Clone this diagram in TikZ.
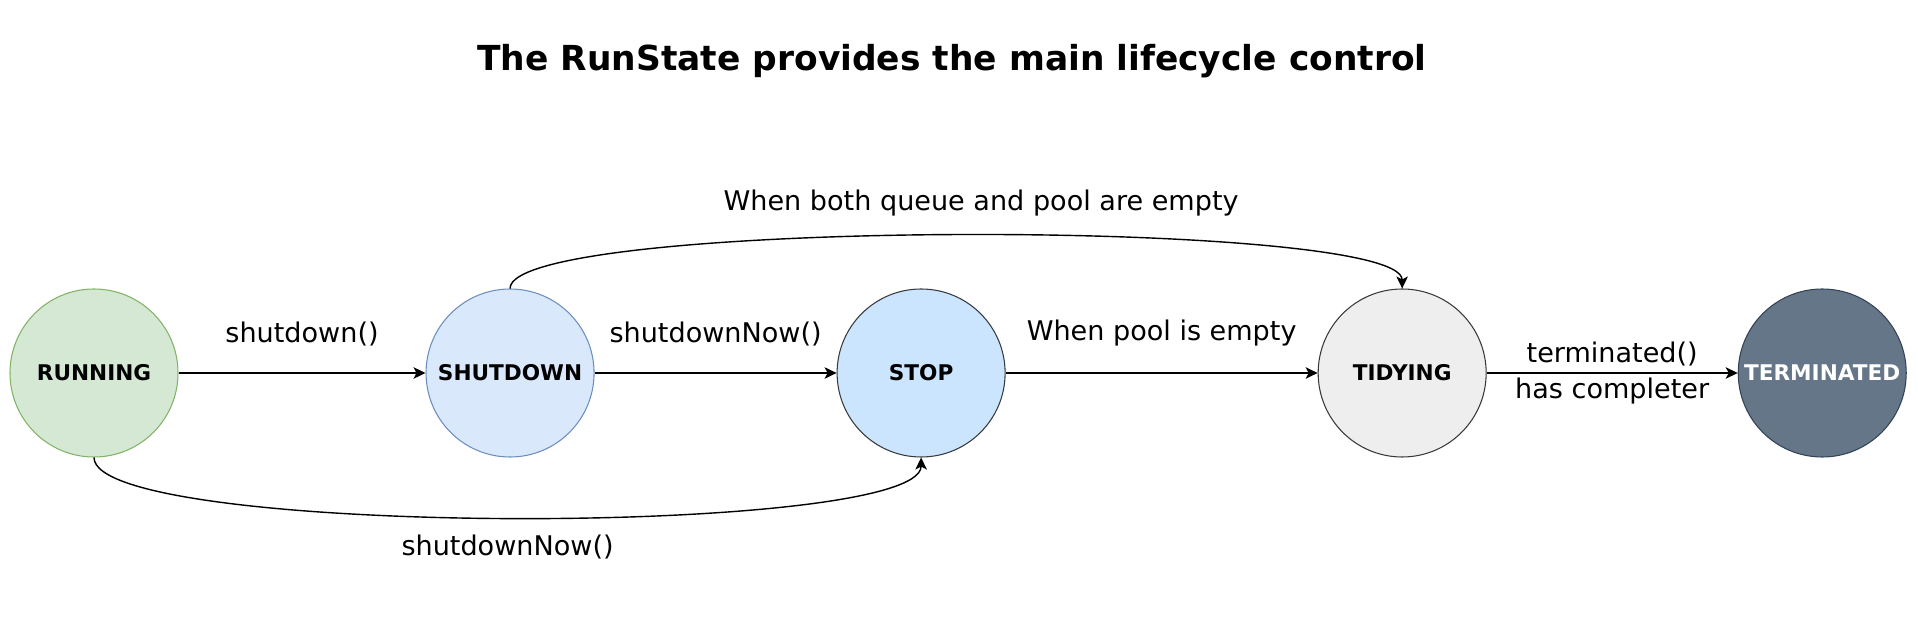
\documentclass[tikz,border=0pt]{standalone}
\usepackage{fontspec}
\setmainfont{DejaVu Sans}
\usepackage{xcolor}
\usepackage{tikz}
\usetikzlibrary{arrows.meta,positioning,calc}

\definecolor{runfill}{HTML}{D5E8D4}
\definecolor{runline}{HTML}{82B366}
\definecolor{shutfill}{HTML}{DAE8FC}
\definecolor{shutline}{HTML}{6C8EBF}
\definecolor{stopfill}{HTML}{CCE5FF}
\definecolor{darkline}{HTML}{36393D}
\definecolor{tidyfill}{HTML}{EEEEEE}
\definecolor{termfill}{HTML}{647687}
\definecolor{termline}{HTML}{314354}

\begin{document}
\begin{tikzpicture}[
  state/.style={circle, draw, line width=0.6pt, minimum size=3.36cm, inner sep=0pt, font=\fontsize{12.3}{14}\selectfont\bfseries},
  lbl/.style={font=\fontsize{15.4}{21}\selectfont},
  trans/.style={-{Stealth[length=2.4mm, width=2.3mm, inset=0.6mm]}, line width=0.8pt}
]
\useasboundingbox (0,0) rectangle (38.36,-12.54);

\node[font=\fontsize{19.6}{24}\selectfont\bfseries] (title) at (19.04,-1.22) {The RunState provides the main lifecycle control};

\node[state, fill=runfill, draw=runline] (running) at (1.88,-7.46) {RUNNING};
\node[state, fill=shutfill, draw=shutline, right=4.94cm of running] (shutdown) {SHUTDOWN};
\node[state, fill=stopfill, draw=darkline, right=4.84cm of shutdown] (stop) {STOP};
\node[state, fill=tidyfill, draw=darkline, right=6.24cm of stop] (tidying) {TIDYING};
\node[state, fill=termfill, draw=termline, text=white, right=5.02cm of tidying] (terminated) {TERMINATED};

\draw[trans] (running) -- node[lbl, above=0.4cm] {shutdown()} (shutdown);
\draw[trans] (shutdown) -- node[lbl, above=0.4cm] {shutdownNow()} (stop);
\draw[trans] (stop) -- node[lbl, above=0.4cm] {When pool is empty} (tidying);
\draw[trans] (tidying) -- node[lbl, align=center] {terminated()\\has completer} (terminated);

\draw[trans] (shutdown.north) .. controls +(0,1.41) and +(0,1.41) .. node[lbl, above=0.25cm, xshift=0.5cm] {When both queue and pool are empty} (tidying.north);
\draw[trans] (running.south) .. controls +(0,-1.6) and +(0,-1.6) .. node[lbl, below=0.22cm] {shutdownNow()} (stop.south);

\end{tikzpicture}
\end{document}
